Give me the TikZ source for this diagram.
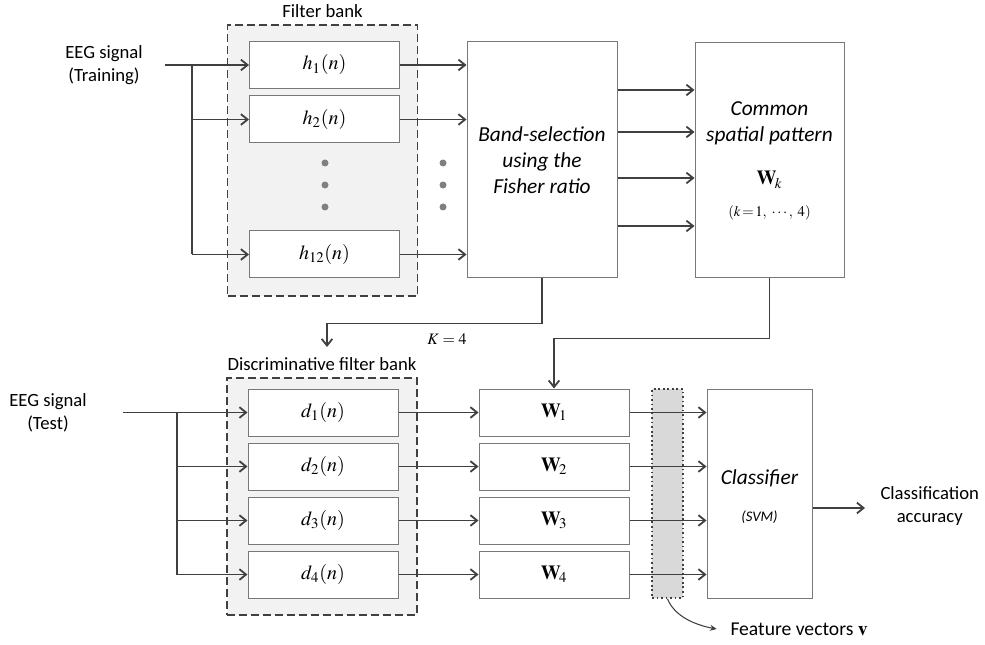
\documentclass[tikz,border=0pt]{standalone}
\usepackage{mathptmx}
\usepackage[no-math]{fontspec}
\setmainfont{Carlito}
\usetikzlibrary{arrows.meta}

\definecolor{lineclr}{RGB}{64,64,64}
\definecolor{boxclr}{RGB}{120,120,120}
\definecolor{bankfill}{RGB}{242,242,242}
\definecolor{fvfill}{RGB}{217,217,217}
\definecolor{dotclr}{RGB}{128,128,128}

\tikzset{every picture/.style={line width=0.75pt}}
\tikzset{
  ln/.style={draw=lineclr, line width=1.35pt},
  arr/.style={ln, -{Straight Barb[length=5pt,width=8pt]}},
  bank/.style={draw=lineclr, line width=1.1pt, dash pattern=on 6pt off 3pt, fill=bankfill, minimum width=142.5pt, inner sep=0pt},
  filt/.style={draw=boxclr, fill=white, minimum width=112.5pt, minimum height=35.25pt, inner sep=0pt, font=\fontsize{15}{18}\selectfont},
  bigbox/.style={draw=boxclr, fill=white, minimum width=112.5pt, inner sep=0pt},
  lbl/.style={inner sep=0pt, align=center, font=\fontsize{14}{17.25}\selectfont},
  itlbl/.style={inner sep=0pt, align=center, font=\fontsize{16}{19.5}\selectfont\itshape},
}

\begin{document}
\begin{tikzpicture}[x=0.75pt,y=0.75pt,yscale=-1,xscale=1]
\useasboundingbox (0,0) rectangle (985,645);

% Filter bank (training)
\node[bank, minimum height=203.25pt] (fbank) at (322.5,160.5) {};
\node[lbl] (fbanklbl) at (322.5,11) {Filter bank};
\node[filt] (h1) at (324.5,65) {$h_{1}(n)$};
\node[filt] (h2) at (324.5,119.5) {$h_{2}(n)$};
\node[filt] (h12) at (324.5,254.5) {$h_{12}(n)$};
\foreach \y in {163,185,207} {
  \fill[dotclr] (325,\y) circle (3.5);
  \fill[dotclr] (443,\y) circle (3.5);
}

% Band selection and CSP
\node[bigbox, minimum height=177pt] (band) at (542,160) {};
\node[itlbl] (bandtxt) at (542,160) {Band-selection\\using the\\Fisher ratio};
\node[bigbox, minimum width=111.75pt, minimum height=176.25pt] (csp) at (769.5,160.5) {};
\node[itlbl] (csptxt) at (769.5,123) {Common\\spatial pattern};
\node[inner sep=0pt, font=\fontsize{15}{18}\selectfont] (Wk) at (769.5,180) {$\mathbf{W}_{\!k}$};
\node[inner sep=0pt, font=\fontsize{11}{13}\selectfont] (krange) at (769.5,213) {$\left(k\,{=}\,1,\;\cdots,\;4\right)$};

% Training input
\node[lbl] (trin) at (104,65) {EEG signal\\(Training)};
\coordinate (trstart) at (165,65);
\coordinate (trbr) at (192,65);
\draw[arr] (trstart) -- (h1.west);
\draw[ln] (trbr) -- (trbr |- h12.west);
\draw[arr] (trbr |- h2.west) -- (h2.west);
\draw[arr] (trbr |- h12.west) -- (h12.west);

% Filter outputs
\draw[arr] (h1.east) -- (band.west |- h1.east);
\draw[arr] (h2.east) -- (band.west |- h2.east);
\draw[arr] (h12.east) -- (band.west |- h12.east);
\foreach \y in {90,132,178,226}
  \draw[arr] (band.east |- 0,\y) -- (csp.west |- 0,\y);

% Discriminative filter bank (test)
\node[bank, minimum height=177.75pt] (dfbank) at (322,496.5) {};
\node[lbl] (dfbanklbl) at (322,364) {Discriminative filter bank};
\node[bigbox, draw=lineclr, line width=1.3pt, dash pattern=on 1.3pt off 2.1pt, fill=fvfill, minimum width=23.25pt, minimum height=156.75pt] (fvband) at (667.5,493.5) {};
\node[bigbox, minimum width=78.75pt, minimum height=156.75pt] (clf) at (759.5,493.5) {};
\node[itlbl] (clftxt) at (759.5,478) {Classifier};
\node[inner sep=0pt, font=\fontsize{11}{13}\selectfont\itshape] (svm) at (759.5,517) {(SVM)};
\foreach \i/\y in {1/412.5,2/466.5,3/520.5,4/574.5} {
  \node[filt] (d\i) at (323,\y) {$d_{\i}(n)$};
  \node[filt] (W\i) at (554,\y) {$\mathbf{W}_{\!\i}$};
}

% Band selection -> discriminative bank
\coordinate (kend) at (327,347);
\draw[arr] (band.south) -- ++(0,45) -| (kend);
\node[inner sep=0pt, font=\fontsize{12}{14}\selectfont] (klbl) at (447,339) {$K=4$};

% CSP -> W
\draw[arr] (csp.south) -- ++(0,60) -| (W1.north);

% Test input
\node[lbl] (tsin) at (48,412.5) {EEG signal\\(Test)};
\coordinate (tsstart) at (123,412.5);
\coordinate (tsbr) at (177,412.5);
\draw[arr] (tsstart) -- (d1.west);
\draw[ln] (tsbr) -- (tsbr |- d4.west);
\foreach \i in {2,3,4}
  \draw[arr] (tsbr |- d\i.west) -- (d\i.west);

% Rows to classifier
\foreach \i in {1,...,4} {
  \draw[arr] (d\i.east) -- (W\i.west);
  \draw[arr] (W\i.east) -- (clf.west |- W\i.east);
}

% Output
\node[lbl, anchor=west] (acc) at (880,506) {Classification\\accuracy};
\coordinate (accend) at (865,508);
\draw[arr] (clf.east |- accend) -- (accend);

% Feature vectors
\node[inner sep=0pt, anchor=west, font=\fontsize{14.7}{18}\selectfont] (fv) at (730,629) {Feature vectors $\mathbf{v}$};
\draw[lineclr, line width=0.8pt, -{Stealth[length=5pt,width=4.5pt]}] (fvband.south) .. controls +(8,20) and +(-16,-3) .. ([xshift=-10pt]fv.west);

\end{tikzpicture}
\end{document}
